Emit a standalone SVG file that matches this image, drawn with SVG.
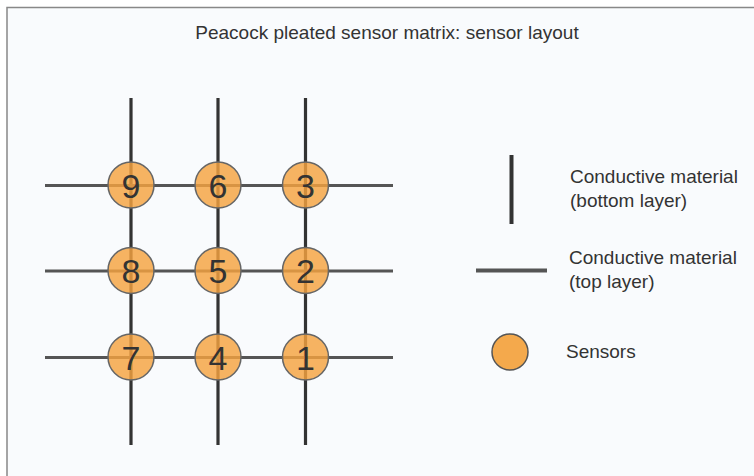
<svg xmlns="http://www.w3.org/2000/svg" width="754" height="476" viewBox="0 0 754 476">
<style>
.t{font-family:"Liberation Sans",Arial,sans-serif;fill:#333}
.title{font-size:19px}
.leg{font-size:19px}
.num{font-size:34px;text-anchor:middle}
.vl{stroke:#333;stroke-width:3.2}
.hl{stroke:#555;stroke-width:3.2}
.s{fill:#f5a240;fill-opacity:0.82;stroke:#666;stroke-width:1.5}
</style>
<rect x="0" y="0" width="754" height="476" fill="#ffffff"/>
<rect x="7" y="7.5" width="770" height="490" fill="#f9fbfd" stroke="#888" stroke-width="1.5"/>
<text class="t title" x="387" y="39" text-anchor="middle">Peacock pleated sensor matrix: sensor layout</text>
<g id="connectors">
<line class="vl" x1="131" y1="98" x2="131" y2="445"/>
<line class="vl" x1="218" y1="98" x2="218" y2="445"/>
<line class="vl" x1="305.5" y1="98" x2="305.5" y2="445"/>
<line class="hl" x1="45" y1="185.5" x2="393" y2="185.5"/>
<line class="hl" x1="45" y1="271" x2="393" y2="271"/>
<line class="hl" x1="45" y1="357.5" x2="393" y2="357.5"/>
</g>
<g id="s9"><circle class="s" cx="131" cy="185" r="23"/><text class="t num" x="131" y="197.5">9</text></g>
<g id="s6"><circle class="s" cx="218" cy="185" r="23"/><text class="t num" x="218" y="197.5">6</text></g>
<g id="s3"><circle class="s" cx="305.5" cy="185" r="23"/><text class="t num" x="305.5" y="197.5">3</text></g>
<g id="s8"><circle class="s" cx="131" cy="270.5" r="23"/><text class="t num" x="131" y="283">8</text></g>
<g id="s5"><circle class="s" cx="218" cy="270.5" r="23"/><text class="t num" x="218" y="283">5</text></g>
<g id="s2"><circle class="s" cx="305.5" cy="270.5" r="23"/><text class="t num" x="305.5" y="283">2</text></g>
<g id="s7"><circle class="s" cx="131" cy="357" r="23"/><text class="t num" x="131" y="369.5">7</text></g>
<g id="s4"><circle class="s" cx="218" cy="357" r="23"/><text class="t num" x="218" y="369.5">4</text></g>
<g id="s1"><circle class="s" cx="305.5" cy="357" r="23"/><text class="t num" x="305.5" y="369.5">1</text></g>
<g id="legend-bottom">
<line x1="511.5" y1="155" x2="511.5" y2="224" stroke="#333" stroke-width="4"/>
<text class="t leg" x="570" y="183">Conductive material</text>
<text class="t leg" x="570" y="207">(bottom layer)</text>
</g>
<g id="legend-top">
<line x1="476" y1="270.5" x2="547" y2="270.5" stroke="#555" stroke-width="4"/>
<text class="t leg" x="569" y="264">Conductive material</text>
<text class="t leg" x="569" y="288">(top layer)</text>
</g>
<g id="legend-sensor">
<circle cx="510" cy="352" r="18" fill="#f4a94c" stroke="#555" stroke-width="1.5"/>
<text class="t leg" x="566" y="358">Sensors</text>
</g>
</svg>
